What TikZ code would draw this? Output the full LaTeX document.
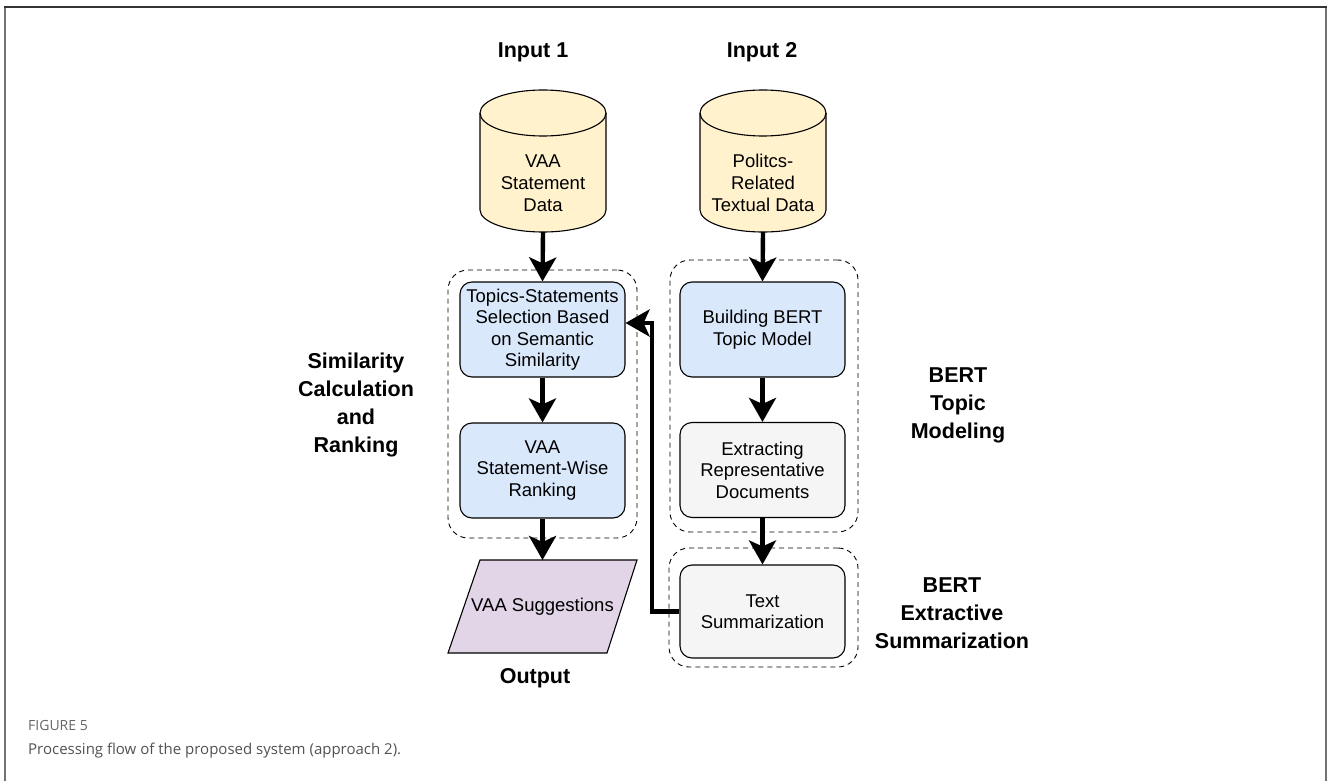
\documentclass[tikz,border=0pt]{standalone}
\usepackage{fontspec}
\setmainfont{Liberation Sans}
\newfontfamily\capfont{Open Sans}
\usetikzlibrary{arrows.meta}
\definecolor{cylfill}{HTML}{FFF2CC}
\definecolor{bluefill}{HTML}{DAE8FC}
\definecolor{grayfill}{HTML}{F5F5F5}
\definecolor{purplefill}{HTML}{E1D5E7}
\tikzset{
  procbox/.style={draw=black, line width=1.1pt, rounded corners=12pt, minimum width=165pt, minimum height=95pt, align=center, inner sep=0pt, font=\fontsize{18.5}{21.5}\selectfont},
  groupbox/.style={draw=black, line width=0.9pt, dash pattern=on 5pt off 4pt, rounded corners=20pt, inner sep=0pt},
  flow/.style={line width=4.4pt, -{Stealth[length=24pt 0 0,width=27pt 0 0,inset=6pt 0 0]}},
  biglabel/.style={font=\fontsize{21.5}{28}\selectfont\bfseries, align=center},
  cyltext/.style={font=\fontsize{18.5}{22}\selectfont, align=center},
  cylshape/.style={draw=black, line width=1.1pt, fill=cylfill}
}
\begin{document}
\begin{tikzpicture}[x=1pt,y=-1pt]
\useasboundingbox (0,0) rectangle (1328,781);
% frame
\draw[color=black!55, line width=2pt] (4.5,7) -- (4.5,781);
\draw[color=black!55, line width=2pt] (1326,7) -- (1326,781);
\draw[color=black!80, line width=1.5pt] (4,7) -- (1327,7);

% headings
\node[biglabel] (in1lab) at (533,52) {Input 1};
\node[biglabel] (in2lab) at (762,52) {Input 2};

% cylinder 1
\path[cylshape] (480,113) -- (480,210) arc[start angle=180,end angle=360,x radius=63pt,y radius=22pt] -- (606,113) arc[start angle=0,end angle=180,x radius=63pt,y radius=23pt] -- cycle;
\draw[line width=1.1pt] (480,113) arc[start angle=180,end angle=360,x radius=63pt,y radius=23pt];
\node[cyltext] (cyl1) at (543,183) {VAA\\Statement\\Data};
\coordinate (cyl1b) at (543,232);

% cylinder 2
\path[cylshape] (700,113) -- (700,210) arc[start angle=180,end angle=360,x radius=63pt,y radius=22pt] -- (826,113) arc[start angle=0,end angle=180,x radius=63pt,y radius=23pt] -- cycle;
\draw[line width=1.1pt] (700,113) arc[start angle=180,end angle=360,x radius=63pt,y radius=23pt];
\node[cyltext] (cyl2) at (763,183) {Politcs-\\Related\\Textual Data};
\coordinate (cyl2b) at (763,232);

% groups
\node[groupbox, minimum width=189pt, minimum height=268pt] (g1) at (542.5,404) {};
\node[groupbox, minimum width=188pt, minimum height=272pt] (g2) at (764,396) {};
\node[groupbox, minimum width=189pt, minimum height=119pt] (g3) at (763.5,607.5) {};

% boxes
\node[procbox, fill=bluefill] (b1) at (542.5,329.5) {Topics-Statements\\Selection Based\\on Semantic\\Similarity};
\node[procbox, fill=bluefill] (b2) at (542.5,470.5) {VAA\\Statement-Wise\\Ranking};
\node[procbox, fill=bluefill] (b3) at (762.5,329.5) {Building BERT\\Topic Model};
\node[procbox, fill=grayfill] (b4) at (762.5,470) {Extracting\\Representative\\Documents};
\node[procbox, fill=grayfill, minimum height=93pt] (b5) at (762.5,611.5) {Text\\Summarization};

% output parallelogram
\coordinate (p1) at (480,560);
\coordinate (p2) at (637,560);
\coordinate (p3) at (607,653);
\coordinate (p4) at (448,653);
\draw[line width=1.1pt, fill=purplefill] (p1) -- (p2) -- (p3) -- (p4) -- cycle;
\node[font=\fontsize{18.5}{21.5}\selectfont] (outp) at (542.5,607) {VAA Suggestions};
\coordinate (outtop) at (542.5,560);
\node[biglabel] (outlab) at (535,678) {Output};

% side labels
\node[biglabel] (lab1) at (356,405) {Similarity\\Calculation\\and\\Ranking};
\node[biglabel] (lab2) at (958,405) {BERT\\Topic\\Modeling};
\node[biglabel] (lab3) at (952,613) {BERT\\Extractive\\Summarization};

% arrows
\draw[flow] (cyl1b) -- (b1.north);
\draw[flow] (b1.south) -- (b2.north);
\draw[flow] (b2.south) -- (outtop);
\draw[flow] (cyl2b) -- (b3.north);
\draw[flow] (b3.south) -- (b4.north);
\draw[flow] (b4.south) -- (b5.north);
\coordinate (fb) at (652,323);
\draw[flow] (b5.west) -| (fb) -- (b1.east |- fb);

% caption
\node[anchor=base west, inner sep=0pt, font=\capfont\fontsize{14}{16}\selectfont, text=black!60] (figlab) at (28,730) {FIGURE 5};
\node[anchor=base west, inner sep=0pt, font=\capfont\fontsize{15}{18}\selectfont, text=black!68] (caption) at (28,754) {Processing flow of the proposed system (approach 2).};
\end{tikzpicture}
\end{document}
